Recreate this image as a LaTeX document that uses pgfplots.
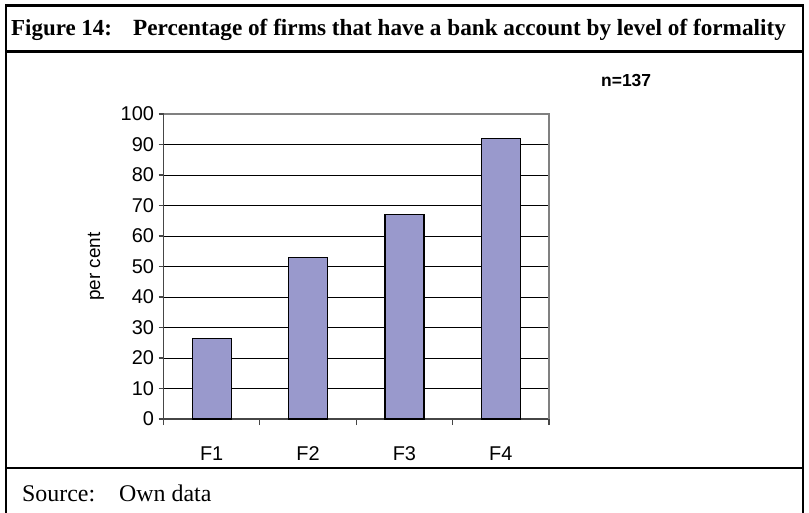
\documentclass[border=0pt]{standalone}
\usepackage{fontspec}
\setmainfont{Liberation Serif}
\setsansfont{Liberation Sans}
\usepackage{pgfplots}
\pgfplotsset{compat=1.18}
\definecolor{barfill}{RGB}{153,153,204}
\definecolor{borderg}{RGB}{128,128,128}
\definecolor{axisg}{RGB}{70,70,70}

\begin{document}
\begin{tikzpicture}[x=1bp,y=1bp]
  \useasboundingbox (0,0) rectangle (809,-513);
  % outer box and separators
  \draw[line width=2.5bp] (6,-520) -- (6,-5.5) -- (803,-5.5) -- (803,-520);
  \draw[line width=2.5bp] (6,-51.5) -- (803,-51.5);
  \draw[line width=2.5bp] (6,-468) -- (803,-468);
  % title
  \node[anchor=base west, inner sep=0, font=\fontsize{23}{27}\selectfont\bfseries]
    at (11,-35.5) {Figure 14:};
  \node[anchor=base west, inner sep=0, font=\fontsize{23.3}{27}\selectfont\bfseries]
    at (133,-35.5) {Percentage of firms that have a bank account by level of formality};
  \node[anchor=base west, inner sep=0, font=\sffamily\bfseries\fontsize{17.5}{20}\selectfont]
    at (601,-87) {n=137};
  % source
  \node[anchor=base west, inner sep=0, font=\fontsize{24}{28}\selectfont]
    at (22,-501) {Source:};
  \node[anchor=base west, inner sep=0, font=\fontsize{24}{28}\selectfont]
    at (119,-501) {Own data};

  \begin{axis}[
      at={(163.5bp,-419bp)}, anchor=south west,
      scale only axis, width=385.5bp, height=305bp,
      xmin=0.5, xmax=4.5, ymin=0, ymax=100,
      axis x line*=bottom, axis y line*=left,
      axis line style={draw=axisg, line width=1.2bp},
      xtick={1,2,3,4}, xticklabels={F1,F2,F3,F4},
      minor xtick={0.5,1.5,2.5,3.5,4.5},
      ytick={0,10,...,100},
      tick align=outside,
      major tick length=5bp, minor tick length=6bp,
      xtick style={draw=none},
      minor x tick style={draw=axisg, line width=1.2bp},
      ytick style={draw=axisg, line width=1.2bp},
      ymajorgrids, grid style={black, line width=0.8bp},
      /pgf/number format/assume math mode=true,
      tick label style={font=\sffamily\fontsize{20}{24}\selectfont},
      yticklabel style={xshift=-1bp},
      xticklabel style={anchor=base, yshift=-36bp},
      ylabel={per cent},
      ylabel style={at={(axis description cs:-0.175,0.5)}, anchor=center,
        font=\sffamily\fontsize{19}{22}\selectfont},
      clip=false,
    ]
    \addplot[ybar, bar width=39bp, fill=barfill, draw=black, line width=1.2bp]
      coordinates {(1,26.3) (2,53) (3,67) (4,92)};
    \draw[borderg, line width=1.2bp] (rel axis cs:0,1) -- (rel axis cs:1,1) -- (rel axis cs:1,0);
  \end{axis}
\end{tikzpicture}
\end{document}
